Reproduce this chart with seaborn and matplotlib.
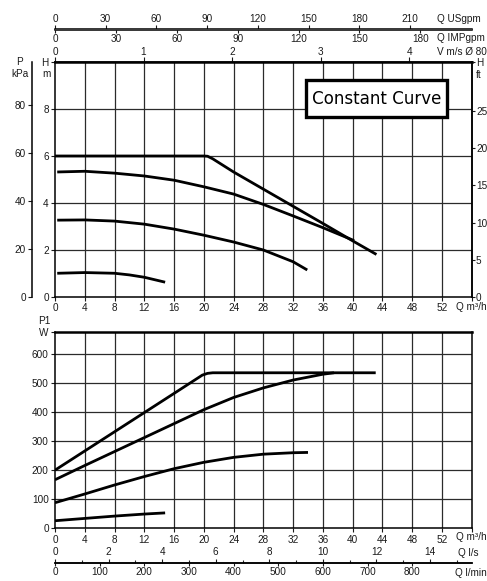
import matplotlib
matplotlib.use("Agg")
import matplotlib.pyplot as plt
import seaborn as sns
import pandas as pd
from matplotlib.patches import Rectangle
from matplotlib.ticker import MultipleLocator
from matplotlib import font_manager as fm

# ---------------- data ----------------
# Head curves, H [m] vs Q [m3/h]
q_h_max = [0, 4, 8, 12, 16, 20, 20.5, 21.2, 24, 28, 32, 36, 40, 43.2]
h_max = [6.0, 6.0, 6.0, 6.0, 6.0, 6.0, 5.99, 5.88, 5.32, 4.59, 3.86, 3.13, 2.39, 1.81]
q_h_2 = [0.3, 4, 8, 12, 16, 20, 24, 28, 32, 36, 40.2]
h_2 = [5.32, 5.35, 5.27, 5.15, 4.97, 4.69, 4.38, 3.94, 3.45, 2.95, 2.40]
q_h_3 = [0.3, 4, 8, 12, 16, 20, 24, 28, 32, 33.9]
h_3 = [3.27, 3.28, 3.23, 3.10, 2.89, 2.63, 2.34, 2.00, 1.50, 1.15]
q_h_4 = [0.3, 4, 8, 10, 12, 14.8]
h_4 = [1.01, 1.04, 1.01, 0.94, 0.84, 0.63]

# Power curves, P1 [W] vs Q [m3/h]
q_p_max = [0, 4, 8, 12, 16, 19.8, 20.5, 21.2, 24, 28, 32, 36, 40, 43.1]
p_max = [200, 266, 332, 398, 464, 527, 533, 535, 535, 535, 535, 535, 535, 535]
q_p_2 = [0, 4, 8, 12, 16, 20, 24, 28, 32, 36, 37.5]
p_2 = [167, 216, 264, 312, 360, 408, 450, 483, 510, 530, 535]
q_p_3 = [0, 4, 8, 12, 16, 20, 24, 28, 32, 34]
p_3 = [88, 118, 149, 178, 205, 227, 244, 255, 260, 261]
q_p_4 = [0, 4, 8, 12, 14.8]
p_4 = [26, 34, 42, 49, 53]

q_ticks = list(range(0, 53, 4))
h_ticks = [0, 2, 4, 6, 8]
kpa_ticks = [0, 20, 40, 60, 80]
ft_ticks = [0, 5, 10, 15, 20, 25]
w_ticks = [0, 100, 200, 300, 400, 500, 600]
usgpm_ticks = [0, 30, 60, 90, 120, 150, 180, 210]
impgpm_ticks = [0, 30, 60, 90, 120, 150, 180]
v_ticks = [0, 1, 2, 3, 4]
ls_ticks = [0, 2, 4, 6, 8, 10, 12, 14]
lmin_ticks = [0, 100, 200, 300, 400, 500, 600, 700, 800]
title_text = "Constant Curve"

# ---------------- styling / layout ----------------
sns.set_theme(style="white")
plt.rcParams["font.family"] = ["Liberation Sans", "DejaVu Sans"]
plt.rcParams["axes.edgecolor"] = "black"

W, H = 487, 581
fig = plt.figure(figsize=(W / 100, H / 100), dpi=100)


def fx(x):
    return x / W


def fy(y):
    return 1 - y / H


L, R = 55.0, 471.7
T1, B1 = 62.0, 297.0
T2, B2 = 331.5, 528.3
ax1 = fig.add_axes([fx(L), fy(B1), (R - L) / W, (B1 - T1) / H])
ax2 = fig.add_axes([fx(L), fy(B2), (R - L) / W, (B2 - T2) / H])

GRID_C = "#2b2b2b"
TXT_C = "#1a1a1a"
FS = 7.2
LW_CURVE = 2.0


def draw(ax, q, v):
    df = pd.DataFrame({"Q": q, "V": v})
    sns.lineplot(data=df, x="Q", y="V", ax=ax, color="black", lw=LW_CURVE,
                 sort=False, estimator=None, solid_capstyle="butt")


for q, v in [(q_h_max, h_max), (q_h_2, h_2), (q_h_3, h_3), (q_h_4, h_4)]:
    draw(ax1, q, v)
for q, v in [(q_p_max, p_max), (q_p_2, p_2), (q_p_3, p_3), (q_p_4, p_4)]:
    draw(ax2, q, v)

H_TOP = 10.0
W_TOP = 677.0
for ax, ytop in [(ax1, H_TOP), (ax2, W_TOP)]:
    ax.set_xlim(0, 56)
    ax.set_ylim(0, ytop)
    ax.set_xlabel("")
    ax.set_ylabel("")
    ax.set_xticks(q_ticks + [56])
    ax.set_xticklabels([str(t) for t in q_ticks] + [""])
    for v in range(4, 56, 4):
        ax.axvline(v, color=GRID_C, lw=0.9, zorder=0.5)
    ax.tick_params(axis="both", direction="out", length=3, width=0.8, pad=1.5,
                   labelsize=FS, colors=TXT_C, bottom=True, left=True)
    for s in ["left", "right", "bottom"]:
        ax.spines[s].set_linewidth(1.1)
        ax.spines[s].set_color("black")
    ax.spines["top"].set_linewidth(1.8)
    ax.spines["top"].set_color("black")

for v in h_ticks[1:]:
    ax1.axhline(v, color=GRID_C, lw=0.9, zorder=0.5)
for v in w_ticks[1:]:
    ax2.axhline(v, color=GRID_C, lw=0.9, zorder=0.5)

ax1.set_yticks(h_ticks + [H_TOP])
ax1.set_yticklabels([str(t) for t in h_ticks] + ["H"])
ax2.set_yticks(w_ticks + [W_TOP])
ax2.set_yticklabels([str(t) for t in w_ticks] + ["W"])

# kPa axis (left, outward)
axk = ax1.twinx()
axk.set_ylim(0, H_TOP * 9.81)
axk.yaxis.set_ticks_position("left")
for s in ["top", "right", "bottom"]:
    axk.spines[s].set_visible(False)
axk.spines["left"].set_visible(True)
axk.spines["left"].set_position(("outward", (L - 32) * 0.72))
axk.spines["left"].set_linewidth(1.1)
axk.spines["left"].set_color("black")
axk.set_yticks(kpa_ticks)
axk.set_yticklabels([str(t) for t in kpa_ticks])
axk.tick_params(axis="y", direction="out", length=3, width=0.8, pad=1.5,
                labelsize=FS, colors=TXT_C, left=True, right=False,
                labelleft=True, labelright=False)
axk.grid(False)

# ft axis (right)
FT_TOP = 31.6
axf = ax1.twinx()
axf.set_ylim(0, FT_TOP)
for s in ["top", "left", "bottom"]:
    axf.spines[s].set_visible(False)
axf.spines["right"].set_linewidth(1.1)
axf.spines["right"].set_color("black")
axf.set_yticks(ft_ticks + [FT_TOP])
axf.set_yticklabels([str(t) for t in ft_ticks] + ["H"])
axf.tick_params(axis="y", direction="out", length=2.5, width=0.8, pad=0.6,
                labelsize=FS, colors=TXT_C, right=True, labelright=True)
axf.grid(False)


# secondary flow scales
def sec(ax, loc, conv, ticks, align, length=3, pad=1.0):
    s = ax.secondary_xaxis(loc, functions=(lambda q: q * conv, lambda u: u / conv))
    s.set_alignment(align)
    s.set_xticks(ticks)
    s.set_xticklabels([str(t) for t in ticks])
    s.tick_params(direction="out", length=length, width=0.8, pad=pad,
                  labelsize=FS, colors=TXT_C)
    s.spines[align].set_linewidth(1.1)
    s.spines[align].set_color("black")
    return s


loc_top = (B1 - 29.5) / (B1 - T1)
sec(ax1, loc_top, 1 / 0.2271247, usgpm_ticks, "top")
sec(ax1, loc_top, 1 / 0.2727655, impgpm_ticks, "bottom", length=2)
sec(ax1, 1.0, 1 / 11.9, v_ticks, "top", length=3.5, pad=0.3)

loc_bot = (B2 - 563) / (B2 - T2)
sls = sec(ax2, loc_bot, 1 / 3.6, ls_ticks, "top")
sls.xaxis.set_minor_locator(MultipleLocator(1))
sls.tick_params(which="minor", direction="out", length=2.5, width=0.8)
sec(ax2, loc_bot, 1000 / 60.0, lmin_ticks, "bottom", length=2)


# unit labels
def ftext(x, y, s, ha="left", **kw):
    fig.text(fx(x), fy(y), s, ha=ha, va="center", fontsize=FS, color=TXT_C, **kw)


ftext(437, 19, "Q USgpm")
ftext(437, 38, "Q IMPgpm")
ftext(437, 52, "V m/s Ø 80")
ftext(471.7, 307, "Q m³/h", ha="center")
ftext(471.7, 537, "Q m³/h", ha="center")
ftext(458, 553, "Q l/s")
ftext(455, 573, "Q l/min")
ftext(19.5, 62, "P", ha="center")
ftext(19.5, 74, "kPa", ha="center")
ftext(46, 74, "m", ha="center")
ftext(479, 75, "ft", ha="center")
ftext(44, 321, "P1", ha="center")

# "Constant Curve" box
bx0, by0, bx1, by1 = 306.0, 80.5, 446.7, 116.5
fig.patches.append(Rectangle((fx(bx0), fy(by1)), (bx1 - bx0) / W, (by1 - by0) / H,
                             transform=fig.transFigure, facecolor="white",
                             edgecolor="black", lw=2.4, zorder=10))

# pick a condensed face if one is installed
names = {f.name for f in fm.fontManager.ttflist}
title_kw = {}
if "Liberation Sans Narrow" in names:
    title_kw = dict(family=["Liberation Sans Narrow", "DejaVu Sans"])
else:
    fp = fm.FontProperties(family="DejaVu Sans", stretch="condensed")
    path = fm.findfont(fp, fallback_to_default=True)
    if "Condensed" in path:
        title_kw = dict(family=["DejaVu Sans"], fontstretch="condensed")
    else:
        title_kw = dict(family=["Liberation Sans", "DejaVu Sans"])

t = fig.text(fx((bx0 + bx1) / 2), fy((by0 + by1) / 2 + 0.5), title_text,
             ha="center", va="center", fontsize=16.3, color="black", zorder=11,
             **title_kw)
# fit the title into the box width (about 129 px)
renderer = fig.canvas.get_renderer()
wpx = t.get_window_extent(renderer).width
if wpx > 129:
    t.set_fontsize(16.3 * 129 / wpx)

fig.savefig("out.png", dpi=100, facecolor="white")
